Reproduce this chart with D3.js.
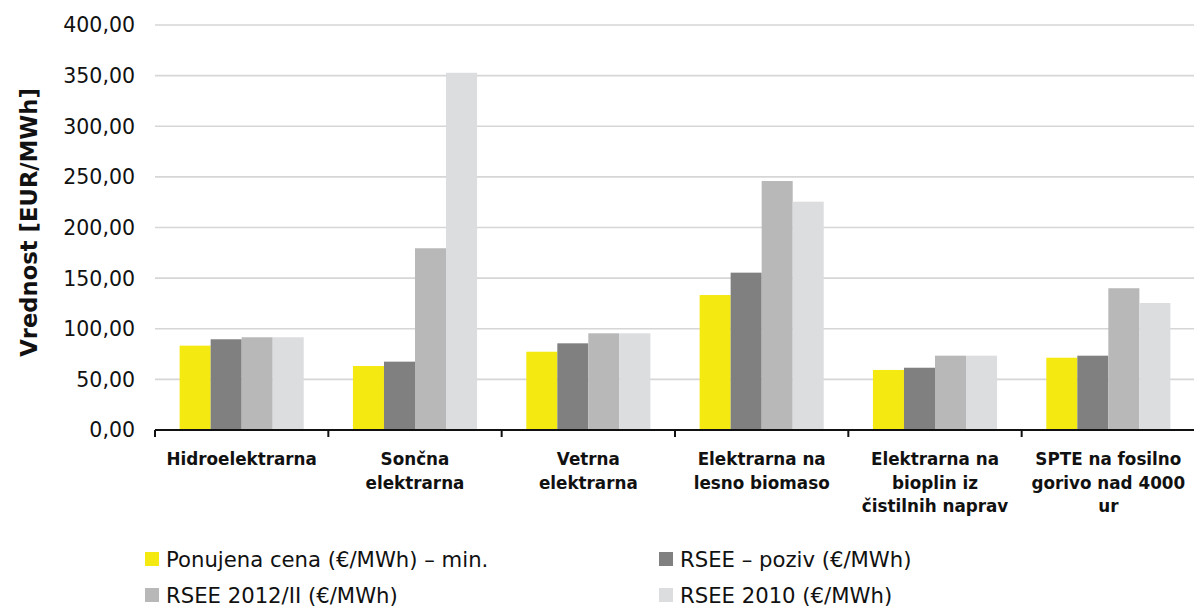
<!DOCTYPE html>
<html>
<head>
<meta charset="utf-8">
<script src="https://cdn.jsdelivr.net/npm/d3@7"></script>
<style>
  html, body { margin: 0; padding: 0; background: #fff; }
  svg { display: block; }
  text { font-family: "DejaVu Sans", sans-serif; fill: #111; }
</style>
</head>
<body>
<svg id="chart" width="1194" height="608"></svg>
<script>
const categories = [
  ["Hidroelektrarna"],
  ["Sončna", "elektrarna"],
  ["Vetrna", "elektrarna"],
  ["Elektrarna na", "lesno biomaso"],
  ["Elektrarna na", "bioplin iz", "čistilnih naprav"],
  ["SPTE na fosilno", "gorivo nad 4000", "ur"]
];
const seriesNames = [
  "Ponujena cena (€/MWh) – min.",
  "RSEE – poziv (€/MWh)",
  "RSEE 2012/II (€/MWh)",
  "RSEE 2010 (€/MWh)"
];
const ponujenaCena = [83.3, 63.2, 77.3, 133.3, 59.3, 71.4];
const rseePoziv    = [89.6, 67.5, 85.6, 155.4, 61.5, 73.4];
const rsee2012     = [91.6, 179.5, 95.5, 245.9, 73.4, 140.0];
const rsee2010     = [91.6, 352.8, 95.5, 225.5, 73.4, 125.4];
const yTicks = [0, 50, 100, 150, 200, 250, 300, 350, 400];
const seriesColors = ["#f4e911", "#808080", "#b8b8b8", "#dcdddf"];

const seriesValues = [ponujenaCena, rseePoziv, rsee2012, rsee2010];

const svg = d3.select("#chart");
const mLeft = 155, mRight = 1195, mTop = 25, mBottom = 430;

const x0 = d3.scaleBand()
  .domain(d3.range(categories.length))
  .range([mLeft, mRight])
  .paddingInner(0.284)
  .paddingOuter(0.142);
const x1 = d3.scaleBand()
  .domain(d3.range(seriesNames.length))
  .range([0, x0.bandwidth()])
  .padding(0);
const y = d3.scaleLinear().domain([0, 400]).range([mBottom, mTop]);

// gridlines
svg.append("g")
  .selectAll("line")
  .data(yTicks.filter(d => d > 0))
  .join("line")
  .attr("x1", mLeft).attr("x2", mRight)
  .attr("y1", d => y(d)).attr("y2", d => y(d))
  .attr("stroke", "#d6d6d6")
  .attr("stroke-width", 1.6);

// y tick labels
const fmt = d => d3.format(".2f")(d).replace(".", ",");
svg.append("g")
  .selectAll("text")
  .data(yTicks)
  .join("text")
  .attr("x", 135)
  .attr("y", d => y(d))
  .attr("dy", "0.36em")
  .attr("text-anchor", "end")
  .style("font-size", "20.5px")
  .text(fmt);

// bars
const groups = svg.append("g")
  .selectAll("g")
  .data(categories.map((c, i) => i))
  .join("g")
  .attr("transform", i => `translate(${x0(i)},0)`);
groups.selectAll("rect")
  .data(i => seriesValues.map((s, k) => ({k, v: s[i]})))
  .join("rect")
  .attr("x", d => x1(d.k))
  .attr("width", x1.bandwidth())
  .attr("y", d => y(d.v))
  .attr("height", d => y(0) - y(d.v))
  .attr("fill", d => seriesColors[d.k]);

// x axis line + ticks
const step = x0.step();
const boundaries = d3.range(categories.length + 1).map(i => mLeft + i * step);
svg.append("line")
  .attr("x1", mLeft).attr("x2", mRight)
  .attr("y1", mBottom).attr("y2", mBottom)
  .attr("stroke", "#111").attr("stroke-width", 2);
svg.append("g")
  .selectAll("line")
  .data(boundaries)
  .join("line")
  .attr("x1", d => d).attr("x2", d => d)
  .attr("y1", mBottom).attr("y2", mBottom + 7)
  .attr("stroke", "#111").attr("stroke-width", 2);

// category labels
const catG = svg.append("g")
  .selectAll("text")
  .data(categories)
  .join("text")
  .attr("x", (d, i) => x0(i) + x0.bandwidth() / 2)
  .attr("y", 465)
  .attr("text-anchor", "middle")
  .style("font-size", "16.8px")
  .style("font-weight", "bold");
catG.selectAll("tspan")
  .data(d => d)
  .join("tspan")
  .attr("x", function() { return d3.select(this.parentNode).attr("x"); })
  .attr("dy", (d, j) => j === 0 ? 0 : 23.5)
  .text(d => d);

// y axis title
svg.append("text")
  .attr("transform", "translate(37,222.5) rotate(-90)")
  .attr("text-anchor", "middle")
  .style("font-size", "22.7px")
  .style("font-weight", "bold")
  .text("Vrednost [EUR/MWh]");

// legend
const legendPos = [[145, 559], [659, 559], [145, 595], [659, 595]];
const leg = svg.append("g")
  .selectAll("g")
  .data(seriesNames)
  .join("g")
  .attr("transform", (d, i) => `translate(${legendPos[i][0]},${legendPos[i][1]})`);
leg.append("rect")
  .attr("x", 0).attr("y", -7)
  .attr("width", 14).attr("height", 14)
  .attr("fill", (d, i) => seriesColors[i]);
leg.append("text")
  .attr("x", 21).attr("y", 0)
  .attr("dy", "0.36em")
  .style("font-size", "21.2px")
  .text(d => d);
</script>
</body>
</html>
